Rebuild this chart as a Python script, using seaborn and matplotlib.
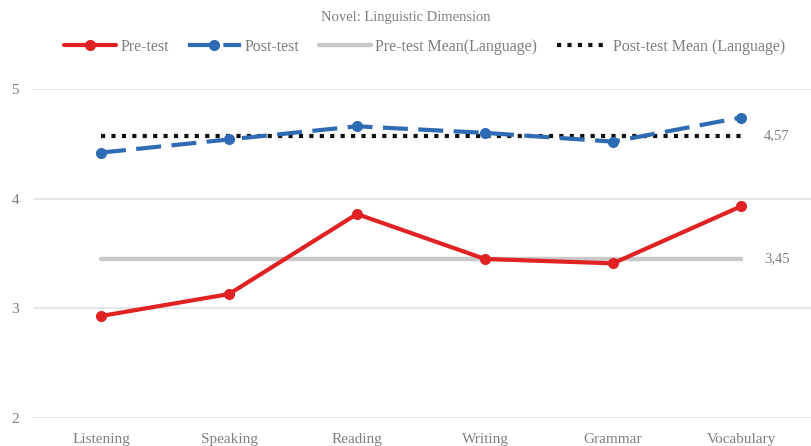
import matplotlib
matplotlib.use("Agg")
import matplotlib.pyplot as plt
import seaborn as sns
import pandas as pd
import numpy as np

categories = ["Listening", "Speaking", "Reading", "Writing", "Grammar", "Vocabulary"]
pre_test = [2.93, 3.13, 3.86, 3.45, 3.41, 3.93]
post_test = [4.42, 4.54, 4.66, 4.60, 4.52, 4.74]
pre_mean = 3.45
post_mean = 4.57
y_ticks = [2, 3, 4, 5]

sns.set_theme(style="white")
plt.rcParams['font.family'] = ['Liberation Serif', 'DejaVu Serif']

fig = plt.figure(figsize=(8.12, 4.46), dpi=100)
ax = fig.add_axes([33/812, 1-418/446, 1-33/812, (418-89)/446])

x = np.arange(len(categories))
df = pd.DataFrame({
    "x": x,
    "Pre-test": pre_test,
    "Post-test": post_test,
    "Pre-test Mean(Language)": [pre_mean]*len(categories),
    "Post-test Mean (Language)": [post_mean]*len(categories),
})

for yv in y_ticks:
    ax.axhline(yv, color="#e3e3e3", lw=1.2, zorder=0)

sns.lineplot(data=df, x="x", y="Pre-test Mean(Language)", ax=ax, color="#c9c9c9",
             lw=3.2, label="Pre-test Mean(Language)", zorder=2)
sns.lineplot(data=df, x="x", y="Post-test Mean (Language)", ax=ax, color="#111111",
             lw=3, linestyle=(0, (1, 1.5)), label="Post-test Mean (Language)", zorder=3)
sns.lineplot(data=df, x="x", y="Pre-test", ax=ax, color="#e02222", lw=3,
             marker="o", markersize=8, markeredgewidth=0, label="Pre-test", zorder=4)
sns.lineplot(data=df, x="x", y="Post-test", ax=ax, color="#2f6bb5", lw=3,
             linestyle=(0, (6, 2.5)), marker="o", markersize=8, markeredgewidth=0,
             label="Post-test", zorder=5)

ax.set_xlim(-0.531, 5.555)
ax.set_ylim(2, 5)
ax.set_xticks(x)
ax.set_xticklabels(categories, fontsize=11, color="#7f7f7f")
ax.set_yticks(y_ticks)
ax.set_yticklabels([str(v) for v in y_ticks], fontsize=11, color="#7f7f7f")
ax.set_xlabel("")
ax.set_ylabel("")
ax.tick_params(axis="x", length=0, pad=11)
ax.tick_params(axis="y", length=0, pad=10)
for s in ax.spines.values():
    s.set_visible(False)

ax.text(5.18, post_mean, "4,57", fontsize=10.5, color="#7f7f7f", va="center", ha="left")
ax.text(5.18, pre_mean, "3,45", fontsize=10.5, color="#7f7f7f", va="center", ha="left")

handles, labels = ax.get_legend_handles_labels()
order = ["Pre-test", "Post-test", "Pre-test Mean(Language)", "Post-test Mean (Language)"]
hmap = dict(zip(labels, handles))
ax.legend_.remove()
fig.legend([hmap[o] for o in order], order, loc="center", bbox_to_anchor=(0.523, 1-47/446),
           ncol=4, frameon=False, fontsize=11.5, handlelength=3.3, columnspacing=1.2,
           handletextpad=0.25, labelcolor="#7f7f7f")

fig.text(0.5, 1-18/446, "Novel: Linguistic Dimension", ha="center", va="center",
         fontsize=10.5, color="#7f7f7f")

fig.savefig("out.png", dpi=100)
